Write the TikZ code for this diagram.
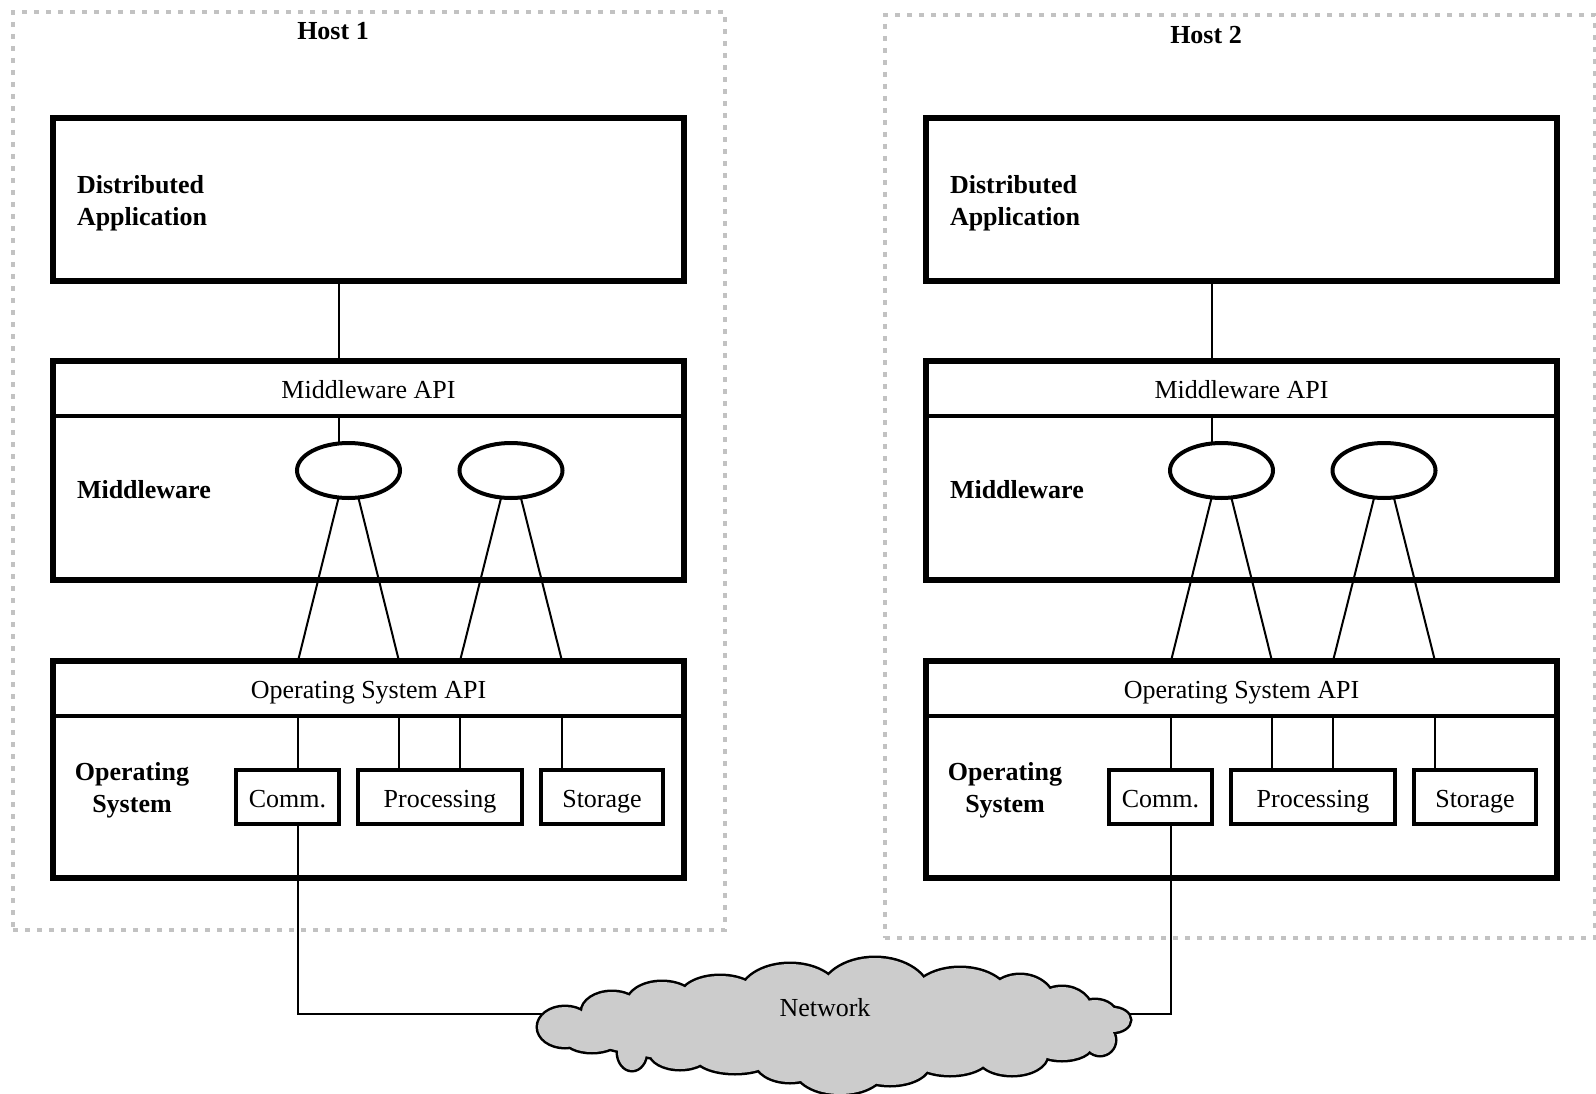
\documentclass[tikz,border=0pt]{standalone}
\usepackage{fontspec}
\setmainfont{Liberation Serif}
\usetikzlibrary{shapes.geometric}
\begin{document}
\begin{tikzpicture}[x=1pt,y=-1pt,
  every node/.style={inner sep=0pt, outer sep=0pt},
  txt/.style={font=\fontsize{26}{32}\selectfont},
  boldlabel/.style={font=\fontsize{26}{32}\selectfont\bfseries, align=left},
  hostbox/.style={draw=black!24, line width=4.5pt, dash pattern=on 5pt off 7pt, minimum width=712pt, minimum height=918pt},
  hostlabel/.style={font=\fontsize{26}{32}\selectfont\bfseries, anchor=base},
  layerbox/.style={draw, line width=5.5pt, minimum width=631pt},
  band/.style={txt, minimum width=631pt, minimum height=55pt, text height=25pt, text depth=6pt},
  sepline/.style={line width=3.3pt},
  mwell/.style={ellipse, draw, line width=4pt, minimum width=103pt, minimum height=55pt},
  comp/.style={txt, draw, line width=4pt, minimum height=54pt, text height=26pt, text depth=6pt},
  conn/.style={line width=2pt},
  cloudout/.style={line width=5pt},
  cloudfill/.style={fill=black!20}
]
\fill[white] (0,0) rectangle (1596,1094);
\useasboundingbox (0,0) rectangle (1596,1094);

% host frames
\node[hostbox] (host1) at (369,471) {};
\node[hostbox, minimum width=710pt, minimum height=923pt] (host2) at (1240,476.5) {};
\node[hostlabel] (hl1) at (333,39.5) {Host 1};
\node[hostlabel] (hl2) at (1206,44) {Host 2};

\foreach \h/\dx in {1/0,2/873}{
  \node[layerbox, minimum height=163pt] (app\h) at (368.5+\dx,199.5) {};
  \node[boldlabel, anchor=west] (applbl\h) at (77+\dx,203) {Distributed\\Application};
  \node[layerbox, minimum height=219pt] (mw\h) at (368.5+\dx,470.5) {};
  \node[band] (mwapi\h) at (368.5+\dx,388.5) {Middleware API};
  \draw[sepline] (mwapi\h.south west) -- (mwapi\h.south east);
  \node[boldlabel, anchor=base west] (mwlbl\h) at (77+\dx,498) {Middleware};
  \node[mwell] (ea\h) at (348.5+\dx,470.5) {};
  \node[mwell] (eb\h) at (511+\dx,470.5) {};
  \node[layerbox, minimum height=217pt] (os\h) at (368.5+\dx,769.5) {};
  \node[band] (osapi\h) at (368.5+\dx,688.5) {Operating System API};
  \draw[sepline] (osapi\h.south west) -- (osapi\h.south east);
  \node[boldlabel, align=center] (oslbl\h) at (132+\dx,790) {Operating\\System};
  \node[comp, minimum width=103pt] (comm\h) at (287.5+\dx,797) {Comm.};
  \node[comp, minimum width=164pt] (proc\h) at (440+\dx,797) {Processing};
  \node[comp, minimum width=122pt] (stor\h) at (602+\dx,797) {Storage};
  \coordinate (xa\h) at ([xshift=10.5pt]comm\h.north);
  \coordinate (xb\h) at ([xshift=-41pt]proc\h.north);
  \coordinate (xc\h) at ([xshift=20pt]proc\h.north);
  \coordinate (xd\h) at ([xshift=-40pt]stor\h.north);
  \draw[conn] (app\h.south -| ea\h.110) -- (mw\h.north -| ea\h.110);
  \draw[conn] (mwapi\h.south -| ea\h.110) -- (ea\h.110);
  \draw[conn] (ea\h.-110) -- (os\h.north -| xa\h);
  \draw[conn] (ea\h.-70) -- (os\h.north -| xb\h);
  \draw[conn] (eb\h.-110) -- (os\h.north -| xc\h);
  \draw[conn] (eb\h.-70) -- (os\h.north -| xd\h);
  \foreach \c in {a,b,c,d} \draw[conn] (osapi\h.south -| x\c\h) -- (x\c\h);
}

% network connectors
\coordinate (netL) at (550,1013.5);
\coordinate (netR) at (1120,1013.5);
\draw[conn] (comm1.south -| xa1) |- (netL);
\draw[conn] (comm2.south -| xa2) |- (netR);

% cloud
\def\cloudlist{565/1027/27/20, 612/1012/30/20, 662/1004/35/22, 720/998/40/22,
  790/996/50/32, 875/996/55/38, 960/1000/50/32, 1020/1005/35/30, 1062/1012/30/25,
  1095/1017/22/17, 1112/1020/18/12, 1100/1040/15/15, 1062/1045/30/15, 1012/1055/35/20,
  950/1055/40/20, 890/1063/40/22, 840/1068/45/26, 790/1060/35/22, 735/1056/40/17,
  680/1052/30/17, 632/1052/14/18, 592/1039/27/13, 840/1025/270/45}
\foreach \cx/\cy/\rx/\ry in \cloudlist
  \draw[cloudout] (\cx,\cy) ellipse [x radius=\rx, y radius=\ry];
\foreach \cx/\cy/\rx/\ry in \cloudlist
  \fill[cloudfill] (\cx,\cy) ellipse [x radius=\rx, y radius=\ry];
\node[txt, anchor=base] (net) at (825,1016) {Network};
\end{tikzpicture}
\end{document}
